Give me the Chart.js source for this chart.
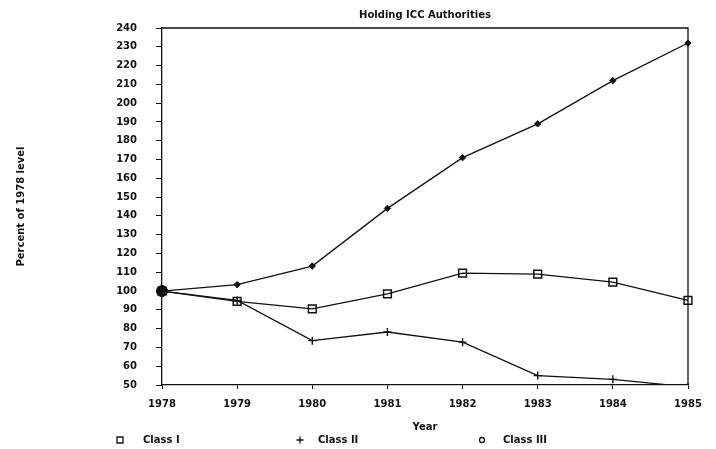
<!DOCTYPE html>
<html>
<head>
<meta charset="utf-8">
<script src="https://cdn.jsdelivr.net/npm/chart.js@4/dist/chart.umd.min.js"></script>
<style>
html,body{margin:0;padding:0;background:#fff;}
#wrap{position:relative;width:716px;height:449px;}
</style>
</head>
<body>
<div id="wrap"><canvas id="c" width="716" height="449"></canvas></div>
<script>
const years = ['1978','1979','1980','1981','1982','1983','1984','1985'];
const classI = [100, 94.5, 90.5, 98.5, 109.5, 109, 104.7, 95];
const classII = [100, 95, 73.6, 78.2, 72.8, 55, 53, 49];
const classIII = [100, 103.4, 113.3, 144, 171, 189, 212, 232];
const seriesNames = ['Class I', 'Class II', 'Class III'];
const chartTitle = 'Holding ICC Authorities';
const xTitle = 'Year';
const yTitle = 'Percent of 1978 level';
const yMin = 50, yMax = 240, yStep = 10;

const FONT = 'DejaVu Sans';
const ink = '#111';
const tickFont = { family: FONT, size: 10, weight: 'bold' };

const boxPlugin = {
  id: 'box',
  afterDatasetsDraw(chart) {
    const a = chart.chartArea, ctx = chart.ctx;
    ctx.save();
    ctx.strokeStyle = ink;
    ctx.lineWidth = 1.3;
    ctx.beginPath();
    ctx.moveTo(a.left, a.top);
    ctx.lineTo(a.right, a.top);
    ctx.lineTo(a.right, a.bottom);
    ctx.stroke();
    ctx.restore();
  }
};

const legendPlugin = {
  id: 'customLegend',
  afterDraw(chart) {
    const ctx = chart.ctx;
    const marks = [120, 300, 482];
    const texts = [143, 318, 503];
    const y = 440;
    ctx.save();
    ctx.strokeStyle = ink;
    ctx.fillStyle = ink;
    ctx.lineWidth = 1.3;
    ctx.font = 'bold 10px ' + FONT;
    ctx.textBaseline = 'middle';
    chart.data.datasets.forEach((ds, i) => {
      const x = marks[i];
      ctx.beginPath();
      if (i === 0) {
        ctx.rect(x - 3, y - 3, 6, 6);
      } else if (i === 1) {
        ctx.moveTo(x - 3.5, y); ctx.lineTo(x + 3.5, y);
        ctx.moveTo(x, y - 3.5); ctx.lineTo(x, y + 3.5);
      } else {
        ctx.arc(x, y, 2.5, 0, Math.PI * 2);
      }
      ctx.stroke();
      ctx.fillText(ds.label, texts[i], y);
    });
    ctx.restore();
  }
};

new Chart(document.getElementById('c'), {
  type: 'line',
  data: {
    labels: years,
    datasets: [
      { label: seriesNames[0], data: classI, borderColor: ink, backgroundColor: '#fff',
        borderWidth: 1.3, pointStyle: 'rect', pointRadius: 5.5, pointBorderWidth: 1.5,
        pointBorderColor: ink, pointBackgroundColor: 'rgba(255,255,255,0)', tension: 0 },
      { label: seriesNames[1], data: classII, borderColor: ink, backgroundColor: ink,
        borderWidth: 1.3, pointStyle: 'cross', pointRadius: 4, pointBorderWidth: 1.4,
        pointBorderColor: ink, tension: 0 },
      { label: seriesNames[2], data: classIII, borderColor: ink, backgroundColor: ink,
        borderWidth: 1.3,
        pointStyle: ['circle','rectRot','rectRot','rectRot','rectRot','rectRot','rectRot','rectRot'],
        pointRadius: [5.5,3.2,3.2,3.2,3.2,3.2,3.2,3.2], pointBorderWidth: 1,
        pointBorderColor: ink, pointBackgroundColor: ink, tension: 0 }
    ]
  },
  options: {
    responsive: false,
    animation: false,
    events: [],
    layout: { padding: { left: 15, right: 28, top: 0, bottom: 16 } },
    plugins: {
      legend: { display: false },
      tooltip: { enabled: false },
      title: {
        display: true, text: chartTitle, fullSize: false, color: ink,
        font: { family: FONT, size: 10, weight: 'bold' },
        padding: { top: 9, bottom: 7 }
      }
    },
    scales: {
      x: {
        type: 'category',
        offset: false,
        grid: { display: true, drawOnChartArea: false, tickLength: 4, color: ink, lineWidth: 1 },
        border: { display: true, color: ink, width: 1.3 },
        ticks: { color: ink, font: tickFont, padding: 9, maxRotation: 0 },
        title: { display: true, text: xTitle, color: ink, font: tickFont, padding: 0 },
        afterFit(s) { s.height = 48; }
      },
      y: {
        min: yMin, max: yMax,
        grid: { display: true, drawOnChartArea: false, tickLength: 6, color: ink, lineWidth: 1 },
        border: { display: true, color: ink, width: 1.3 },
        ticks: { stepSize: yStep, color: ink, font: tickFont, padding: 19 },
        title: { display: true, text: yTitle, color: ink, font: tickFont, padding: 0 },
        afterFit(s) { s.width = 147; }
      }
    }
  },
  plugins: [boxPlugin, legendPlugin]
});
</script>
</body>
</html>
